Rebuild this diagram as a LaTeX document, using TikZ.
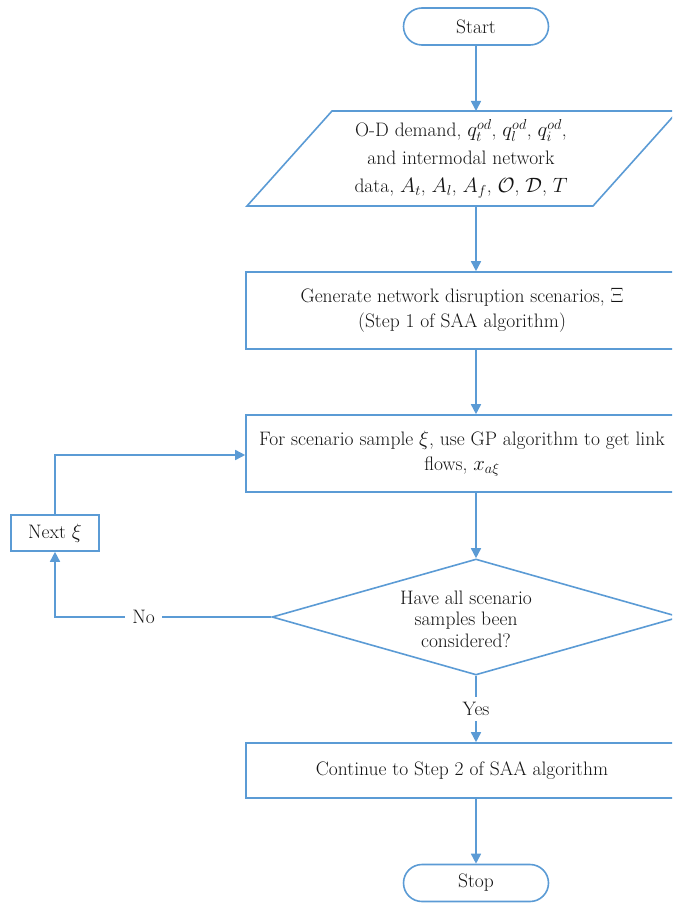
\documentclass[tikz,border=0pt]{standalone}
\usetikzlibrary{arrows.meta,shapes.geometric,calc}
\definecolor{fb}{RGB}{91,155,213}
\definecolor{tx}{RGB}{20,20,20}
\begin{document}
\begin{tikzpicture}[x=1pt,y=-1pt,
  every node/.style={font=\fontsize{19.5}{24.5}\selectfont, text=tx},
  ln/.style={draw=fb, line width=1.6pt},
  arr/.style={ln, -{Triangle[length=10pt,width=10pt]}},
  term/.style={ln, rectangle, rounded corners=18.5pt, minimum width=145pt, minimum height=37pt, fill=white, inner sep=0pt},
  box/.style={ln, rectangle, fill=white, inner sep=0pt, align=center},
  lbl/.style={fill=white, inner xsep=7pt, inner ysep=5pt}]
\useasboundingbox (0,0) rectangle (672,904);
\clip (0,0) rectangle (672,904);

\node[term] (s) at (476,26.5) {Start};

\coordinate (ptop) at (476,111);
\coordinate (pbot) at (476,206);
\draw[ln, fill=white] (332,111) -- (678,111) -- (593,206) -- (247,206) -- cycle;
\node[align=center, font=\fontsize{19.5}{28}\selectfont] (pd) at (461,159)
  {O-D demand, $q_t^{od}$, $q_l^{od}$, $q_i^{od}$,\\and intermodal network\\data, $A_t$, $A_l$, $A_f$, $\mathcal{O}$, $\mathcal{D}$, $T$};

\node[box, minimum width=432pt, minimum height=77pt] (g) at (462,310.5)
  {Generate network disruption scenarios, $\Xi$\\(Step 1 of SAA algorithm)};

\node[box, minimum width=432pt, minimum height=77pt] (f) at (462,453.5)
  {For scenario sample $\xi$, use GP algorithm to get link\\flows, $x_{a\xi}$};

\node[diamond, ln, fill=white, minimum width=408pt, minimum height=116pt, inner sep=0pt] (d) at (476,617) {};
\node[align=center, font=\fontsize{19.5}{21.5}\selectfont] (dt) at (466,619)
  {Have all scenario\\samples been\\considered?};

\node[box, minimum width=88pt, minimum height=36pt] (n) at (55,533) {Next $\xi$};

\node[box, minimum width=432pt, minimum height=55pt] (c) at (462,770.5)
  {Continue to Step 2 of SAA algorithm};

\node[term] (e) at (476,883) {Stop};

\draw[arr] (s.south) -- (ptop);
\draw[arr] (pbot) -- (pbot |- g.north);
\draw[arr] (g.south -| s) -- (f.north -| s);
\draw[arr] (f.south -| s) -- (d.north);
\draw[arr] (d.south) -- node[lbl] {Yes} (c.north -| s);
\draw[arr] (c.south -| s) -- (e.north);
\draw[arr] (d.west) -| node[lbl, pos=0.295] {No} (n.south);
\draw[arr] (n.north) |- ($(f.west)+(0,1.5)$);
\end{tikzpicture}
\end{document}
